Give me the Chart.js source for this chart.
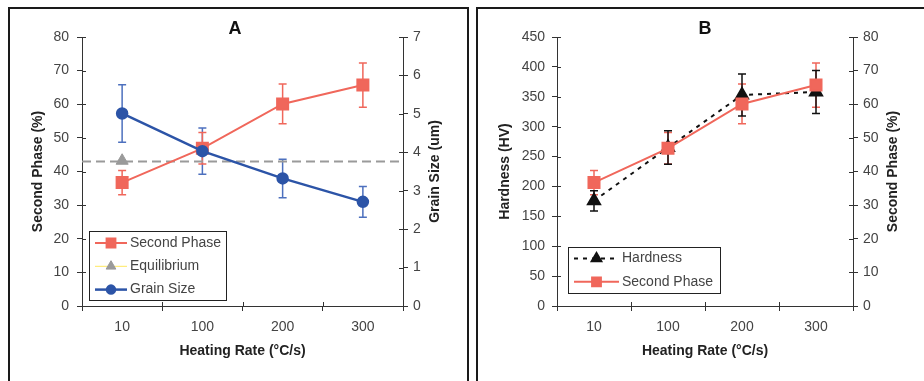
<!DOCTYPE html>
<html>
<head>
<meta charset="utf-8">
<script src="https://cdn.jsdelivr.net/npm/chart.js@4"></script>
<style>
    body{ margin:0; background:#fff; width:924px; height:381px; overflow:hidden; position:relative; }
    canvas{ position:absolute; top:0; }
    .frame{ position:absolute; border:2px solid #1a1a1a; border-bottom:none; pointer-events:none; }
</style>
</head>
<body>
<canvas id="chartA" width="470" height="381" style="left:0"></canvas>
<canvas id="chartB" width="454" height="381" style="left:470px"></canvas>
<div class="frame" style="left:8px; top:7px; width:457px; height:380px;"></div>
<div class="frame" style="left:476px; top:7px; width:470px; height:380px;"></div>

<script>
// ===== DATA =====
let categories = ["10", "100", "200", "300"];

let secondPhase = [36.7, 46.9, 60.1, 65.7];
let secondPhaseErr = [3.6, 4.7, 5.9, 6.6];

let grainSize = [5.01, 4.03, 3.32, 2.71];
let grainSizeErr = [0.75, 0.6, 0.5, 0.4];

let equilibriumPoint = [43.2, null, null, null];
let equilibriumLevel = 43;

let hardness = [176, 265, 353, 358];
let hardnessErr = [17, 28, 35, 36];

// ===== STYLE =====
const RED = "#F0675B";
const BLUE = "#2C54A7";
const GREY = "#9A9A9A";
const INK = "#333";
const TICK = "#444";
const FONT = "'Liberation Sans', Arial, sans-serif";

Chart.defaults.font.family = FONT;
Chart.defaults.color = INK;

// ===== PLUGINS =====
// error bars, drawn under the markers
const errorBars = {
    id: "errorBars",
    beforeDatasetsDraw(chart){
        let ctx = chart.ctx;
        chart.data.datasets.forEach((ds, i) => {
            if(!ds.errorBars) return;
            let meta = chart.getDatasetMeta(i);
            let yScale = chart.scales[ds.yAxisID];
            ctx.save();
            ctx.strokeStyle = ds.errorColor || ds.borderColor;
            ctx.lineWidth = 1.5;
            meta.data.forEach((pt, j) => {
                let v = ds.data[j];
                let e = ds.errorBars[j];
                let top = yScale.getPixelForValue(v + e);
                let bot = yScale.getPixelForValue(v - e);
                ctx.beginPath();
                ctx.moveTo(pt.x, top); ctx.lineTo(pt.x, bot);
                ctx.moveTo(pt.x - 4, top); ctx.lineTo(pt.x + 4, top);
                ctx.moveTo(pt.x - 4, bot); ctx.lineTo(pt.x + 4, bot);
                ctx.stroke();
            });
            ctx.restore();
        });
    }
};

// tick marks that also reach inside the plot, like the original
const crossTicks = {
    id: "crossTicks",
    afterDraw(chart){
        let ctx = chart.ctx;
        let area = chart.chartArea;
        ctx.save();
        ctx.strokeStyle = INK;
        ctx.lineWidth = 1;
        ctx.beginPath();
        let x = chart.scales.x;
        for(let i = 0; i <= categories.length; i++){
            let px = Math.round(x.getPixelForValue(i - 0.5)) + 0.5;
            ctx.moveTo(px, area.bottom); ctx.lineTo(px, area.bottom - 4);
        }
        ["y", "y1"].forEach(id => {
            let s = chart.scales[id];
            s.ticks.forEach((t, i) => {
                let py = Math.round(s.getPixelForTick(i)) + 0.5;
                if(s.position === "left"){
                    ctx.moveTo(area.left, py); ctx.lineTo(area.left + 4, py);
                }else{
                    ctx.moveTo(area.right, py); ctx.lineTo(area.right - 4, py);
                }
            });
        });
        ctx.stroke();
        ctx.restore();
    }
};

// right axis title reading bottom to top, plus boxed legend inside the plot
const extras = {
    id: "extras",
    afterDraw(chart, args, opts){
        let ctx = chart.ctx;
        let area = chart.chartArea;

        // right title
        ctx.save();
        ctx.translate(opts.rightTitleX, (area.top + area.bottom) / 2);
        ctx.rotate(-Math.PI / 2);
        ctx.font = "bold 14px " + FONT;
        ctx.fillStyle = "#222";
        ctx.textAlign = "center";
        ctx.textBaseline = "middle";
        ctx.fillText(opts.rightTitle, 0, 0);
        ctx.restore();

        // legend
        let lg = opts.legend;
        let bx = area.left + lg.x;
        let by = area.bottom - lg.y - lg.h;
        ctx.save();
        ctx.fillStyle = "#fff";
        ctx.fillRect(bx, by, lg.w, lg.h);
        ctx.strokeStyle = "#222";
        ctx.lineWidth = 1;
        ctx.strokeRect(Math.round(bx) + 0.5, Math.round(by) + 0.5, lg.w, lg.h);

        lg.items.forEach((item, k) => {
            let ds = chart.data.datasets.find(d => d.label === item.label);
            let cy = by + lg.first + k * lg.rowH;
            let x0 = bx + lg.lineStart;
            let x1 = x0 + lg.lineLen;

            ctx.beginPath();
            ctx.strokeStyle = item.lineColor || ds.borderColor;
            ctx.lineWidth = item.lineWidth || ds.borderWidth;
            ctx.setLineDash(ds.borderDash || []);
            ctx.moveTo(x0, cy); ctx.lineTo(x1, cy);
            ctx.stroke();
            ctx.setLineDash([]);

            ctx.fillStyle = ds.pointBackgroundColor;
            ctx.strokeStyle = ds.pointBorderColor;
            Chart.helpers.drawPoint(ctx, {
                pointStyle: ds.pointStyle,
                radius: ds.pointRadius * 0.8,
                borderWidth: 1,
                rotation: 0
            }, (x0 + x1) / 2, cy);

            ctx.fillStyle = TICK;
            ctx.font = "14px " + FONT;
            ctx.textAlign = "left";
            ctx.textBaseline = "middle";
            ctx.fillText(item.label, x1 + 3, cy);
        });
        ctx.restore();
    }
};

// ===== SHARED AXIS BITS =====
function yAxis(position, min, max, step, width, pad){
    return {
        position: position,
        min: min,
        max: max,
        ticks: { stepSize: step, padding: pad, font: { size: 14 }, color: TICK },
        grid: { drawOnChartArea: false, tickLength: 5, color: INK },
        border: { color: INK },
        afterFit(s){ s.width = width; }
    };
}

function xAxis(){
    return {
        type: "category",
        offset: true,
        ticks: { padding: 8, font: { size: 14 }, color: TICK },
        grid: { offset: true, drawOnChartArea: false, tickLength: 5, color: INK },
        border: { color: INK },
        title: {
            display: true,
            text: "Heating Rate (°C/s)",
            font: { size: 14, weight: "bold", lineHeight: 1.2 },
            padding: { top: 0, bottom: 21 },
            color: "#222"
        },
        afterFit(s){ s.height = 75; }
    };
}

function panelTitle(text, fullSize){
    return {
        display: true,
        text: text,
        fullSize: fullSize,
        font: { size: 18, weight: "bold", lineHeight: 1 },
        padding: { top: 20, bottom: -1 },
        color: "#111"
    };
}

// ===== CHART A =====
let yA = yAxis("left", 0, 80, 10, 82, 8);
yA.title = {
    display: true,
    text: "Second Phase (%)",
    font: { size: 14, weight: "bold", lineHeight: 1.2 },
    padding: { top: 30, bottom: 0 },
    color: "#222"
};

new Chart(document.getElementById("chartA"), {
    type: "line",
    data: {
        labels: categories,
        datasets: [
            {
                label: "Grain Size",
                data: grainSize,
                yAxisID: "y1",
                borderColor: BLUE,
                borderWidth: 2.5,
                pointStyle: "circle",
                pointRadius: 5,
                pointBackgroundColor: BLUE,
                pointBorderColor: BLUE,
                errorBars: grainSizeErr,
                errorColor: "#4D70BE"
            },
            {
                label: "Second Phase",
                data: secondPhase,
                yAxisID: "y",
                borderColor: RED,
                borderWidth: 2,
                pointStyle: "rect",
                pointRadius: 7.8,
                pointBackgroundColor: RED,
                pointBorderColor: RED,
                errorBars: secondPhaseErr
            },
            {
                label: "Equilibrium",
                data: equilibriumPoint,
                yAxisID: "y",
                showLine: false,
                borderColor: GREY,
                borderWidth: 1,
                pointStyle: "triangle",
                pointRadius: 7,
                pointBackgroundColor: GREY,
                pointBorderColor: GREY
            },
            {
                label: "Equilibrium level",
                data: [{ x: 0, y: equilibriumLevel }, { x: 1, y: equilibriumLevel }],
                xAxisID: "x2",
                yAxisID: "y",
                borderColor: GREY,
                borderWidth: 2,
                borderDash: [9, 5],
                pointRadius: 0
            }
        ]
    },
    options: {
        responsive: false,
        animation: false,
        layout: { padding: 0 },
        scales: {
            x: xAxis(),
            x2: { type: "linear", min: 0, max: 1, display: false },
            y: yA,
            y1: yAxis("right", 0, 7, 1, 67, 5)
        },
        plugins: {
            legend: { display: false },
            tooltip: { enabled: false },
            title: panelTitle("A", true),
            extras: {
                rightTitleX: 435,
                rightTitle: "Grain Size (um)",
                legend: {
                    x: 7, y: 6, w: 137, h: 69,
                    first: 12, rowH: 23.3,
                    lineStart: 6, lineLen: 32,
                    items: [
                        { label: "Second Phase" },
                        { label: "Equilibrium", lineColor: "#FFE860", lineWidth: 1 },
                        { label: "Grain Size" }
                    ]
                }
            }
        }
    },
    plugins: [errorBars, crossTicks, extras]
});

// ===== CHART B =====
let yB = yAxis("left", 0, 450, 50, 87, 7);
yB.title = {
    display: true,
    text: "Hardness (HV)",
    font: { size: 14, weight: "bold", lineHeight: 1.2 },
    padding: { top: 27, bottom: 0 },
    color: "#222"
};

new Chart(document.getElementById("chartB"), {
    type: "line",
    data: {
        labels: categories,
        datasets: [
            {
                label: "Second Phase",
                data: secondPhase,
                yAxisID: "y1",
                borderColor: RED,
                borderWidth: 2,
                pointStyle: "rect",
                pointRadius: 7.8,
                pointBackgroundColor: RED,
                pointBorderColor: RED,
                errorBars: secondPhaseErr
            },
            {
                label: "Hardness",
                data: hardness,
                yAxisID: "y",
                borderColor: "#111",
                borderWidth: 2,
                borderDash: [4, 5],
                pointStyle: "triangle",
                pointRadius: 7,
                pointBackgroundColor: "#111",
                pointBorderColor: "#111",
                errorBars: hardnessErr
            }
        ]
    },
    options: {
        responsive: false,
        animation: false,
        layout: { padding: 0 },
        scales: {
            x: xAxis(),
            y: yB,
            y1: yAxis("right", 0, 80, 10, 71, 5)
        },
        plugins: {
            legend: { display: false },
            tooltip: { enabled: false },
            title: panelTitle("B", false),
            extras: {
                rightTitleX: 423,
                rightTitle: "Second Phase (%)",
                legend: {
                    x: 11, y: 13, w: 152, h: 46,
                    first: 11.5, rowH: 23.3,
                    lineStart: 6, lineLen: 45,
                    items: [
                        { label: "Hardness" },
                        { label: "Second Phase" }
                    ]
                }
            }
        }
    },
    plugins: [errorBars, crossTicks, extras]
});
</script>
</body>
</html>
